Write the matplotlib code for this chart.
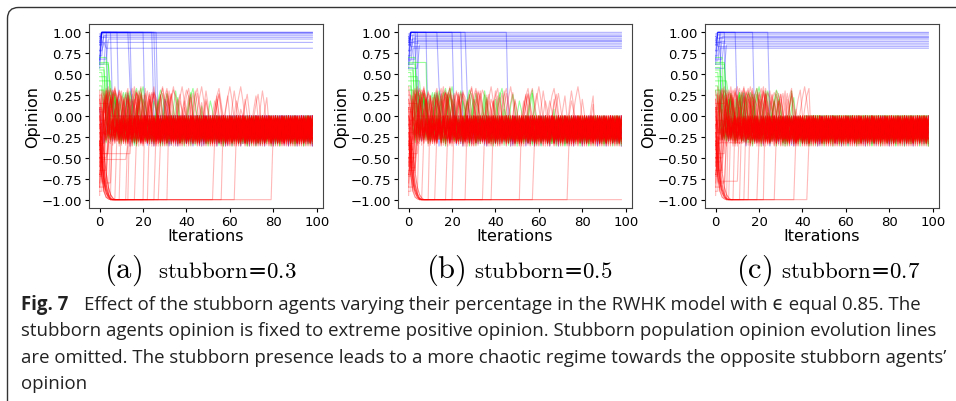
import numpy as np
import matplotlib.pyplot as plt
from matplotlib import font_manager
from matplotlib.patches import FancyBboxPatch

plt.rcParams['mathtext.fontset'] = 'cm'

W, H = 956, 402
iters = np.arange(99)

# opinion tables (reused along the time axis)
wide_waves = [
    [-0.10, 0.05, 0.18, 0.28, 0.22, 0.05, -0.15, -0.25, -0.05, -0.20, 0.10, 0.30, 0.15, -0.10,
     -0.28, -0.12, -0.02, 0.20, 0.12, -0.18, -0.30, -0.08, 0.25],
    [-0.22, -0.05, -0.28, -0.12, 0.08, 0.24, 0.33, 0.15, -0.02, -0.20, -0.30, -0.10, -0.25,
     0.02, 0.18, 0.06, -0.15, -0.27, -0.04, 0.12, 0.27, 0.10, -0.08, -0.24, -0.14, -0.30],
    [0.12, 0.26, 0.08, -0.18, -0.30, -0.06, -0.22, -0.12, 0.04, 0.20, 0.31, 0.24, 0.02, -0.16,
     -0.26, -0.03, -0.20, 0.10, 0.22, -0.05, -0.28, -0.15, 0.00, 0.16, 0.28, 0.08, -0.12, -0.32, -0.18],
    [-0.30, -0.14, 0.06, 0.22, 0.35, 0.18, -0.04, -0.24, -0.10, -0.28, -0.02, 0.14, 0.26, 0.04,
     -0.18, -0.32, -0.08, -0.22, 0.10, 0.30, 0.12, -0.14, -0.26, -0.06, 0.20, 0.02, -0.20, -0.12,
     0.08, 0.24, -0.02],
]
narrow_waves = [
    [0.00, -0.22, -0.05, -0.28, -0.02, -0.18, -0.30],
    [-0.25, -0.03, -0.20, 0.00, -0.32, -0.08, -0.15, -0.01, -0.27],
    [-0.01, -0.15, -0.30, -0.05, -0.24, 0.00, -0.12, -0.27, -0.06, -0.36, -0.10],
    [-0.12, -0.31, -0.02, -0.21, -0.06, -0.35, 0.00, -0.17, -0.28, -0.04, -0.23, -0.09, -0.33],
    [-0.20, 0.00, -0.26, -0.09, -0.33, -0.04, -0.23, -0.14],
]
drop_paths = [
    [-0.55, -0.80, -0.92, -0.97, -0.99],
    [-0.35, -0.62, -0.82, -0.93, -0.98],
    [-0.70, -0.90, -0.97, -0.99],
    [-0.25, -0.45, -0.68, -0.85, -0.94, -0.98],
    [-0.48, -0.74, -0.88, -0.95],
]

blue_starts = [0.98, 0.72, 0.90, 0.62, 0.85, 0.95, 0.68, 0.78, 0.88, 0.57, 0.93, 0.66]
blue_settle = [1, 2, 1, 3, 2, 1, 4, 2, 3, 5, 1, 2]
green_starts = [0.70, 0.64, 0.58, 0.52, 0.47, 0.42, 0.36, 0.31, 0.62, 0.55]
red_starts = [-0.95, -0.90, -0.85, -0.80, -0.72, -0.65, -0.60, -0.55, -0.50, -0.45,
              -0.40, -0.35, -0.30, -0.25, -0.20, -0.15, -0.10, -0.05, 0.00, 0.05,
              0.10, 0.15, 0.20, 0.25, 0.30, -0.70, -0.33, -0.12, 0.08, -0.50]
red_entry = [1, 2, 3, 1, 2, 4, 1, 3, 2, 5, 1, 2]
bottom_starts = [-0.20, -0.50, 0.10, -0.35, -0.70, 0.00, -0.60, -0.10, -0.85, -0.40, 0.20]

# (a) stubborn = 0.3
blue_levels_a = [1.00, 1.00, 0.99, 0.98, 0.96, 0.94, 0.92, 0.88, 0.81]
blue_drops_a = [4, 6, 9, 14, 15, 21, 25, 26, 27]
green_entry_a = [4, 5, 3, 2, 4, 6, 2, 3, 5, 3]
bottom_leave_a = [2, 2, 3, 3, 4, 5, 6, 8, 10, 13, 14, 17, 21, 23, 26, 28, 32, 53, 57, 63, 80]
hold_levels_a = [-0.80, -0.45, -0.52, -0.78]
hold_ends_a = [6, 15, 13, 4]
calm_a = [3, 14, 6, 20, 10, 5, 25, 15, 32, 8, 18, 40, 12, 28, 48, 6, 22, 55, 10, 4, 35, 66, 9, 78]
flat_colors_a = ['blue', 'red']
flat_starts_a = [5, 6]

# (b) stubborn = 0.5
blue_levels_b = [1.00, 0.98, 0.96, 0.95, 0.93, 0.91, 0.90, 0.89, 0.87, 0.85, 0.83, 0.81]
blue_drops_b = [4, 5, 9, 14, 21, 25, 27, 46]
green_entry_b = [4, 9, 3, 2, 5, 6, 2, 3, 4, 3]
bottom_leave_b = [2, 3, 3, 4, 5, 7, 10, 13, 18, 21, 27, 35, 39, 52, 58, 74, 99]
hold_levels_b = [-0.62, -0.40]
hold_ends_b = [4, 3]
calm_b = [3, 16, 6, 22, 12, 5, 28, 18, 36, 8, 20, 45, 12, 30, 58, 6, 24, 68, 10, 4, 40, 78, 9, 86]
flat_colors_b = ['red']
flat_starts_b = [3]

# (c) stubborn = 0.7
blue_levels_c = [1.00, 0.99, 0.97, 0.95, 0.94, 0.93, 0.91, 0.89, 0.87, 0.85, 0.83, 0.81]
blue_drops_c = [3, 5, 10, 18, 25]
green_entry_c = [4, 5, 3, 2, 4, 6, 2, 3, 5, 3]
bottom_leave_c = [2, 2, 3, 4, 5, 6, 7, 9, 12, 14, 16, 20, 23, 28, 37, 43]
hold_levels_c = [-0.78, -0.80, -0.32]
hold_ends_c = [11, 5, 14]
calm_c = [3, 14, 6, 20, 10, 5, 25, 15, 30, 8, 18, 36, 12, 28, 40, 6, 22, 44, 10, 4, 33, 38]
flat_colors_c = ['green', 'red']
flat_starts_c = [42, 40]

sub_labels = ['(a)', '(b)', '(c)']
stubborn = ['0.3', '0.5', '0.7']

panels = [
    dict(blue_levels=blue_levels_a, blue_drops=blue_drops_a, green_entry=green_entry_a,
         bottom_leave=bottom_leave_a, hold_levels=hold_levels_a, hold_ends=hold_ends_a,
         calm=calm_a, flat_colors=flat_colors_a, flat_starts=flat_starts_a),
    dict(blue_levels=blue_levels_b, blue_drops=blue_drops_b, green_entry=green_entry_b,
         bottom_leave=bottom_leave_b, hold_levels=hold_levels_b, hold_ends=hold_ends_b,
         calm=calm_b, flat_colors=flat_colors_b, flat_starts=flat_starts_b),
    dict(blue_levels=blue_levels_c, blue_drops=blue_drops_c, green_entry=green_entry_c,
         bottom_leave=bottom_leave_c, hold_levels=hold_levels_c, hold_ends=hold_ends_c,
         calm=calm_c, flat_colors=flat_colors_c, flat_starts=flat_starts_c),
]

COLORS = {'blue': '#0000ff', 'red': '#ff0000', 'green': '#00ff00'}
ALPHA = {'blue': 0.3, 'red': 0.28, 'green': 0.4}


def cluster(k, calm):
    w = wide_waves[k % len(wide_waves)]
    n = narrow_waves[k % len(narrow_waves)]
    return np.array([w[(t + 7 * k) % len(w)] if t < calm else n[(t + 3 * k) % len(n)]
                     for t in iters])


def draw_panel(ax, p):
    lines = []  # (color, y)
    k = 0
    calm = p['calm']

    # blue agents that settle near the stubborn extreme
    for i, lev in enumerate(p['blue_levels']):
        y = np.full(len(iters), lev)
        y[:blue_settle[i % len(blue_settle)]] = blue_starts[i % len(blue_starts)]
        lines.append(('blue', y))
    # blue agents that leave the top and fall into the cluster
    for i, d in enumerate(p['blue_drops']):
        y = cluster(k, calm[k % len(calm)])
        y[0] = blue_starts[(i + 3) % len(blue_starts)]
        y[1:d] = 1.0
        lines.append(('blue', y))
        k += 1
    # green (neutral) agents
    for i, e in enumerate(p['green_entry']):
        y = cluster(k, calm[k % len(calm)])
        y[:e] = green_starts[i % len(green_starts)]
        lines.append(('green', y))
        k += 1
    # red agents entering the cluster directly
    for i, s in enumerate(red_starts):
        y = cluster(k, calm[k % len(calm)])
        y[:red_entry[i % len(red_entry)]] = s
        lines.append(('red', y))
        k += 1
    # red agents pulled to -1 and released later
    for i, leave in enumerate(p['bottom_leave']):
        y = cluster(k, calm[k % len(calm)])
        y[0] = bottom_starts[i % len(bottom_starts)]
        path = drop_paths[i % len(drop_paths)]
        for t in range(1, min(leave, len(iters))):
            y[t] = path[t - 1] if t - 1 < len(path) else -1.0
        lines.append(('red', y))
        k += 1
    # red agents holding an intermediate opinion for a while
    for lev, end in zip(p['hold_levels'], p['hold_ends']):
        y = cluster(k, calm[k % len(calm)])
        y[0] = -0.3
        y[1:end] = lev
        lines.append(('red', y))
        k += 1
    # agents sitting on 0
    for c, s in zip(p['flat_colors'], p['flat_starts']):
        y = cluster(k, calm[k % len(calm)])
        y[s:] = 0.0
        lines.append((c, y))
        k += 1

    for order in ['blue', 'green', 'red']:
        for c, y in lines:
            if c == order:
                ax.plot(iters, y, color=COLORS[c], alpha=ALPHA[c], lw=0.8)

    ax.set_xticks([0, 20, 40, 60, 80, 100])
    ax.set_yticks(np.arange(-1, 1.01, 0.25))
    ax.tick_params(labelsize=9.5, length=3, width=0.8, pad=2)
    ax.set_xlabel('Iterations', fontsize=11.5, labelpad=0)
    ax.set_ylabel('Opinion', fontsize=11.5, labelpad=1)
    for s in ax.spines.values():
        s.set_color('#444444')


fig = plt.figure(figsize=(W / 100, H / 100), dpi=100)
fig.patch.set_facecolor('white')

lefts = [89, 398, 705]
for i, p in enumerate(panels):
    ax = fig.add_axes([lefts[i] / W, 1 - 209 / H, 234 / W, 184 / H])
    draw_panel(ax, p)

# sub-captions
sub_x = [104, 426, 736]
stub_x = [158, 474, 781]
for i in range(3):
    fig.text(sub_x[i] / W, 1 - 278 / H, r'$\mathrm{' + sub_labels[i] + '}$', fontsize=22,
             va='baseline')
    fig.text(stub_x[i] / W, 1 - 278 / H,
             r'$\mathrm{stubborn}$=$\mathrm{' + stubborn[i] + '}$',
             fontsize=16.5, family='DejaVu Serif', va='baseline')

# caption
names = {f.name for f in font_manager.fontManager.ttflist}
cap_font = 'Liberation Sans Narrow' if 'Liberation Sans Narrow' in names else 'Open Sans'
cap_family = [cap_font, 'DejaVu Sans']
cap_lines = [
    'Effect of the stubborn agents varying their percentage in the RWHK model with \u03f5 equal 0.85. The',
    'stubborn agents opinion is fixed to extreme positive opinion. Stubborn population opinion evolution lines',
    'are omitted. The stubborn presence leads to a more chaotic regime towards the opposite stubborn agents\u2019',
    'opinion',
]
fig.canvas.draw()
renderer = fig.canvas.get_renderer()
probe = fig.text(0, 0, cap_lines[1], fontsize=12, family=cap_family)
w2 = probe.get_window_extent(renderer).width
probe.remove()
cap_size = 12 * (908 / w2)

baselines = [310, 336, 363, 389]
fig.text(21 / W, 1 - baselines[0] / H, 'Fig. 7', fontsize=cap_size, family=cap_family,
         weight='bold', va='baseline', color='#222222')
fig.text(84 / W, 1 - baselines[0] / H, cap_lines[0], fontsize=cap_size, family=cap_family,
         va='baseline', color='#222222')
for j in range(1, 4):
    fig.text(21 / W, 1 - baselines[j] / H, cap_lines[j], fontsize=cap_size, family=cap_family,
             va='baseline', color='#222222')

# frame around the figure block
frame = FancyBboxPatch((0.075, -0.2), 10.0, 4.02 - 0.085 + 0.2,
                       boxstyle='round,pad=0,rounding_size=0.11',
                       transform=fig.dpi_scale_trans, fill=False,
                       edgecolor='#333333', lw=1.0, clip_on=False)
fig.add_artist(frame)

fig.savefig('out.png', dpi=100)
